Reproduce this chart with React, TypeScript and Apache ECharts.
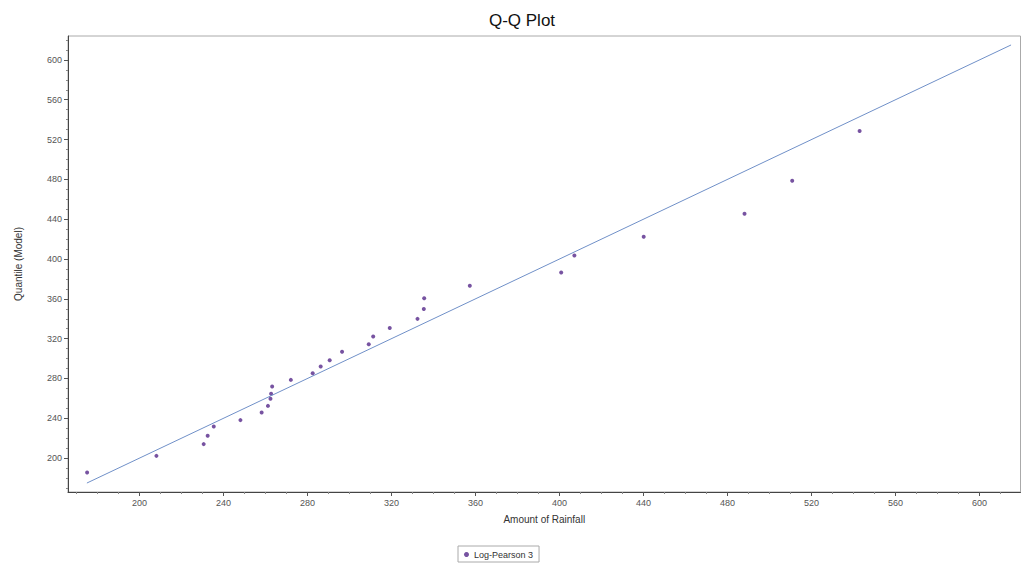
import React, { useEffect, useRef } from "react";
import * as echarts from "echarts";

const rainfall = [
  175.1, 208.1, 230.6, 232.5, 235.4, 248.1, 258.2, 261.2, 262.4, 262.7,
  263.2, 272.1, 282.5, 286.3, 290.6, 296.5, 309.2, 311.3, 319.2, 332.4,
  335.4, 335.6, 357.3, 400.8, 407.1, 440.1, 488.1, 510.8, 542.9,
];
const quantile = [
  185.5, 202.3, 214.1, 222.4, 231.7, 238.2, 245.8, 252.5, 259.6, 264.6,
  272.0, 278.6, 285.3, 292.0, 298.4, 306.8, 314.5, 322.1, 330.8, 339.9,
  349.9, 360.7, 373.1, 386.4, 403.5, 422.3, 445.4, 478.6, 528.6,
];
const refLine = [175, 615];
const xTicks = [200, 240, 280, 320, 360, 400, 440, 480, 520, 560, 600];
const yTicks = [200, 240, 280, 320, 360, 400, 440, 480, 520, 560, 600];
const xMinorTicks = [170, 180, 190, 210, 220, 230, 250, 260, 270, 290, 300, 310, 330, 340, 350, 370, 380, 390, 410, 420, 430, 450, 460, 470, 490, 500, 510, 530, 540, 550, 570, 580, 590, 610];
const yMinorTicks = [170, 180, 190, 210, 220, 230, 250, 260, 270, 290, 300, 310, 330, 340, 350, 370, 380, 390, 410, 420, 430, 450, 460, 470, 490, 500, 510, 530, 540, 550, 570, 580, 590, 610, 620];
const xRange = [166, 619.5];
const yRange = [166, 624];

export default function App() {
  const ref = useRef<HTMLDivElement>(null);
  useEffect(() => {
    const chart = echarts.init(ref.current!, null, { renderer: "svg" });
    const font = "Liberation Sans, Arial, sans-serif";
    const labelStyle = { fontSize: 9, color: "#555", fontFamily: font };
    chart.setOption({
      animation: false,
      backgroundColor: "#fff",
      title: {
        text: "Q-Q Plot",
        left: 517,
        textAlign: "center",
        top: 7,
        textStyle: { fontSize: 17, fontWeight: "normal", color: "#111", fontFamily: font },
      },
      legend: {
        bottom: 2,
        left: 458,
        data: ["Log-Pearson 3"],
        itemWidth: 5,
        itemHeight: 5,
        itemGap: 4,
        padding: [4, 6, 3, 6],
        borderColor: "#aaa",
        borderWidth: 1,
        borderRadius: 0,
        textStyle: { fontSize: 9, color: "#333", fontFamily: font },
      },
      grid: {
        left: 68,
        right: 3.5,
        top: 36,
        bottom: 72,
        show: true,
        borderColor: "#aaa",
        borderWidth: 1,
      },
      xAxis: [
        {
          type: "value",
          min: xRange[0],
          max: xRange[1],
          name: "Amount of Rainfall",
          nameLocation: "middle",
          nameGap: 22,
          nameTextStyle: { fontSize: 10, color: "#333", fontFamily: font },
          axisLine: { show: true, lineStyle: { color: "#444" } },
          axisTick: { show: true, length: 4, customValues: xTicks, lineStyle: { color: "#555" } },
          axisLabel: { ...labelStyle, customValues: xTicks, margin: 6 },
          splitLine: { show: false },
        },
        {
          type: "value",
          min: xRange[0],
          max: xRange[1],
          position: "bottom",
          axisLine: { show: false },
          axisTick: { show: true, length: 2, customValues: xMinorTicks, lineStyle: { color: "#888" } },
          axisLabel: { show: false },
          splitLine: { show: false },
        },
      ],
      yAxis: [
        {
          type: "value",
          min: yRange[0],
          max: yRange[1],
          name: "Quantile (Model)",
          nameLocation: "middle",
          nameGap: 45,
          nameTextStyle: { fontSize: 10, color: "#333", fontFamily: font },
          axisLine: { show: true, lineStyle: { color: "#444" } },
          axisTick: { show: true, length: 4, customValues: yTicks, lineStyle: { color: "#555" } },
          axisLabel: { ...labelStyle, customValues: yTicks, margin: 6 },
          splitLine: { show: false },
        },
        {
          type: "value",
          min: yRange[0],
          max: yRange[1],
          position: "left",
          axisLine: { show: false },
          axisTick: { show: true, length: 2, customValues: yMinorTicks, lineStyle: { color: "#888" } },
          axisLabel: { show: false },
          splitLine: { show: false },
        },
      ],
      series: [
        {
          name: "Reference",
          type: "line",
          xAxisIndex: 0,
          yAxisIndex: 0,
          data: refLine.map((v) => [v, v]),
          showSymbol: false,
          symbol: "none",
          lineStyle: { color: "#7090c8", width: 1 },
          silent: true,
        },
        {
          name: "Log-Pearson 3",
          type: "scatter",
          xAxisIndex: 0,
          yAxisIndex: 0,
          data: rainfall.map((x, i) => [x, quantile[i]]),
          symbol: "circle",
          symbolSize: 4,
          itemStyle: { color: "#55288a" },
        },
      ],
    });
    return () => chart.dispose();
  }, []);
  return <div ref={ref} style={{ width: 1024, height: 564, position: "absolute", left: 0, top: 0 }} />;
}
